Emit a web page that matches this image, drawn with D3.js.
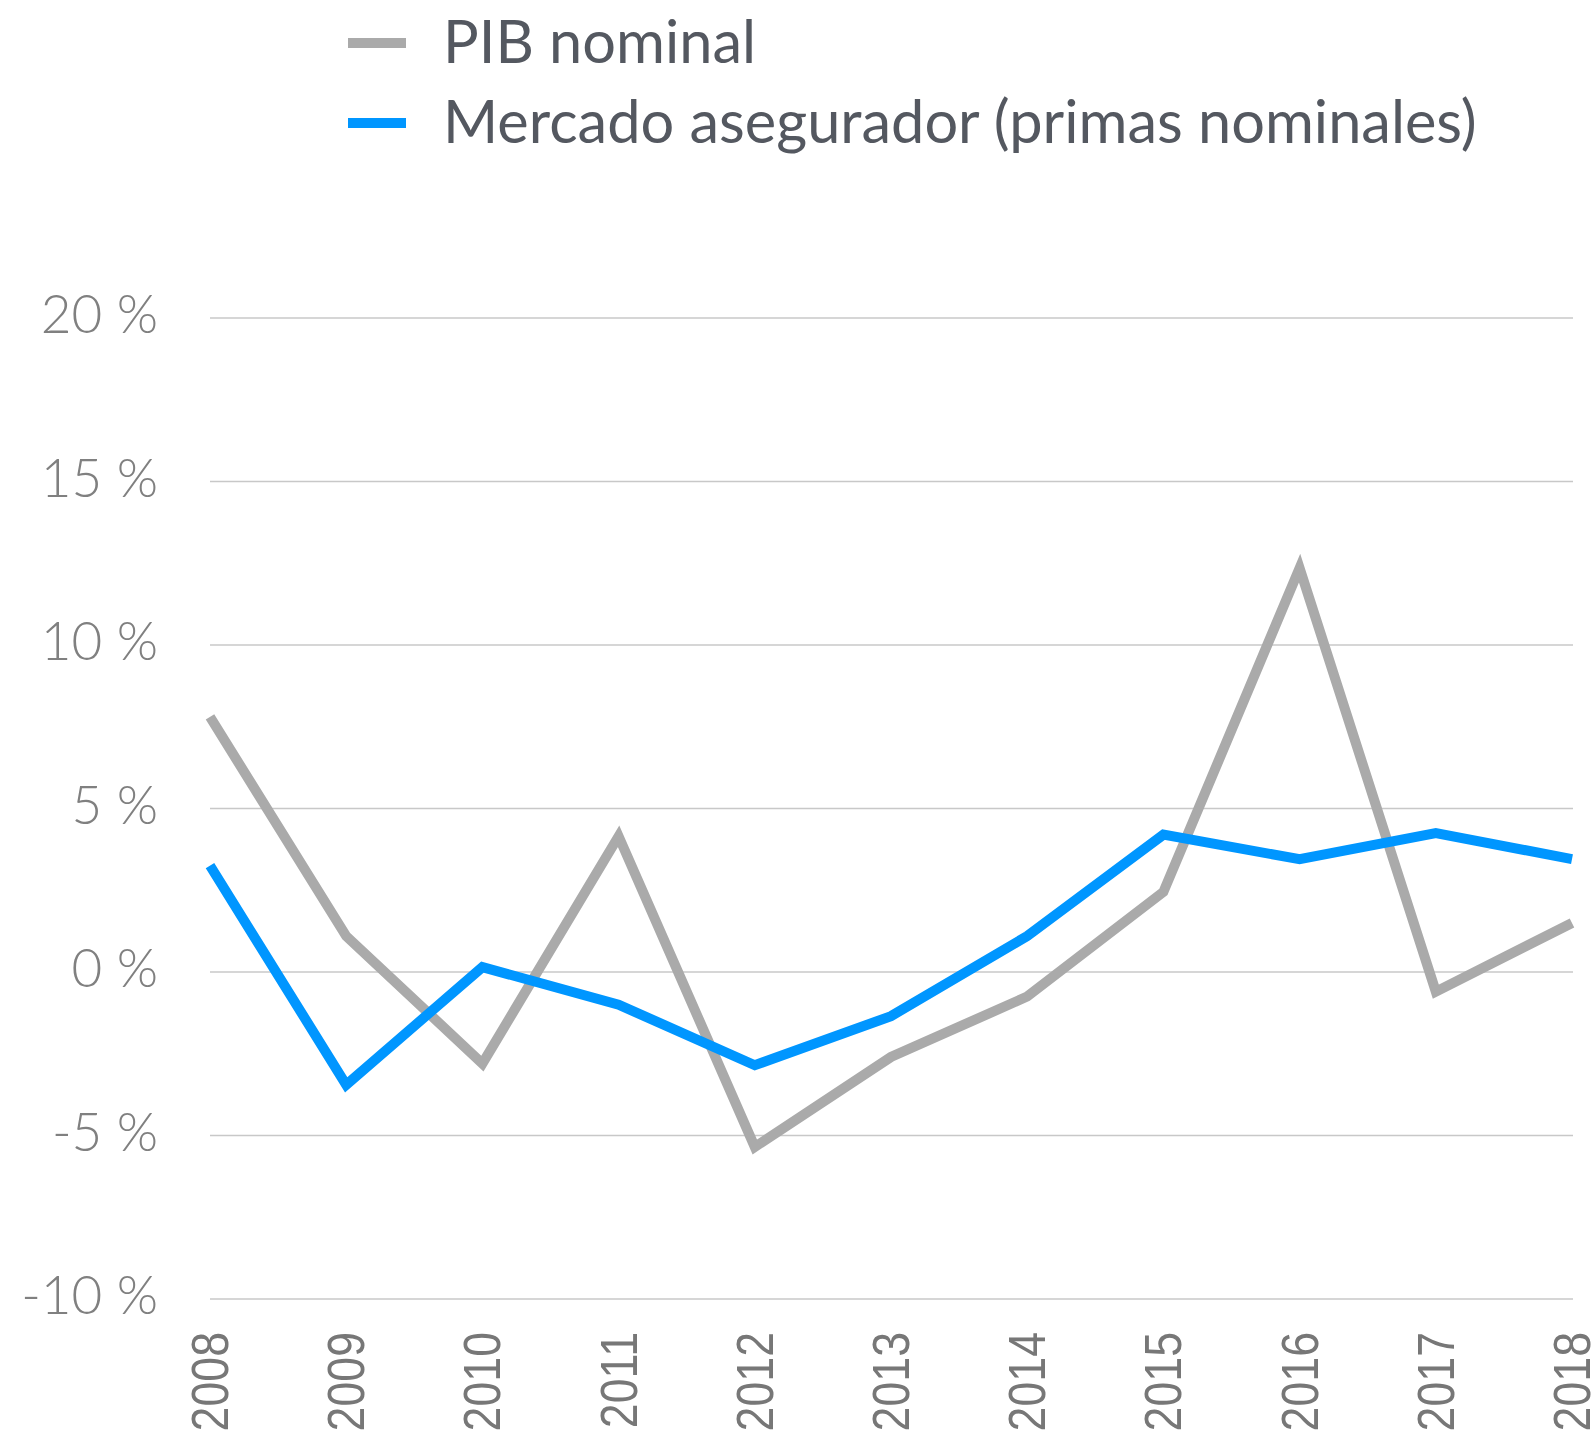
<!DOCTYPE html>
<html>
<head>
<meta charset="utf-8">
<script src="https://cdn.jsdelivr.net/npm/d3@7"></script>
<style>
  body { margin: 0; background: #fff; }
  svg { display: block; }
</style>
</head>
<body>
<svg id="chart"></svg>
<script>
const width = 1593;
const height = 1441;

const years = ["2008", "2009", "2010", "2011", "2012", "2013", "2014", "2015", "2016", "2017", "2018"];
const pibNominal = [7.8, 1.1, -2.8, 4.15, -5.35, -2.6, -0.75, 2.45, 12.35, -0.6, 1.5];
const mercado = [3.25, -3.45, 0.15, -1.0, -2.85, -1.35, 1.1, 4.2, 3.45, 4.25, 3.45];
const yTicks = [-10, -5, 0, 5, 10, 15, 20];
const seriesNames = ["PIB nominal", "Mercado asegurador (primas nominales)"];
const seriesColors = ["#aaaaaa", "#0096ff"];

const svg = d3.select("#chart").attr("width", width).attr("height", height);

const x = d3.scalePoint().domain(years).range([210, 1572]);
const y = d3.scaleLinear().domain([-10, 20]).range([1299, 318]);

// grid lines
svg.append("g")
  .selectAll("line")
  .data(yTicks)
  .enter().append("line")
  .attr("x1", 210)
  .attr("x2", 1573)
  .attr("y1", d => y(d))
  .attr("y2", d => y(d))
  .attr("stroke", "#c8c8c8")
  .attr("stroke-width", 1.5);

// y labels
svg.append("g")
  .selectAll("text")
  .data(yTicks)
  .enter().append("text")
  .attr("x", 158)
  .attr("y", d => y(d) + 15)
  .attr("text-anchor", "end")
  .attr("font-family", "Lato, 'Open Sans', sans-serif")
  .attr("font-weight", 300)
  .attr("font-size", 53)
  .attr("fill", "#808080")
  .text(d => d + " %");

// x labels, rotated and a bit condensed
svg.append("g")
  .selectAll("text")
  .data(years)
  .enter().append("text")
  .attr("transform", d => `translate(${x(d) + 18},1332) rotate(-90) scale(0.86,1)`)
  .attr("text-anchor", "end")
  .attr("font-family", "'Liberation Sans', Arial, sans-serif")
  .attr("font-size", 52)
  .attr("fill", "#777777")
  .text(d => d);

const line = d3.line()
  .x((d, i) => x(years[i]))
  .y(d => y(d));

[pibNominal, mercado].forEach((vals, i) => {
  svg.append("path")
    .datum(vals)
    .attr("d", line)
    .attr("fill", "none")
    .attr("stroke", seriesColors[i])
    .attr("stroke-width", 10)
    .attr("stroke-linejoin", "miter");
});

// legend
const legend = svg.append("g");
seriesNames.forEach((name, i) => {
  const ly = 43 + i * 80;
  legend.append("line")
    .attr("x1", 348).attr("x2", 406)
    .attr("y1", ly).attr("y2", ly)
    .attr("stroke", seriesColors[i])
    .attr("stroke-width", 10);
  legend.append("text")
    .attr("x", 443)
    .attr("y", ly + 20)
    .attr("font-family", "Lato, 'Open Sans', sans-serif")
    .attr("font-size", 59.5)
    .attr("fill", "#545860")
    .text(name);
});
</script>
</body>
</html>
